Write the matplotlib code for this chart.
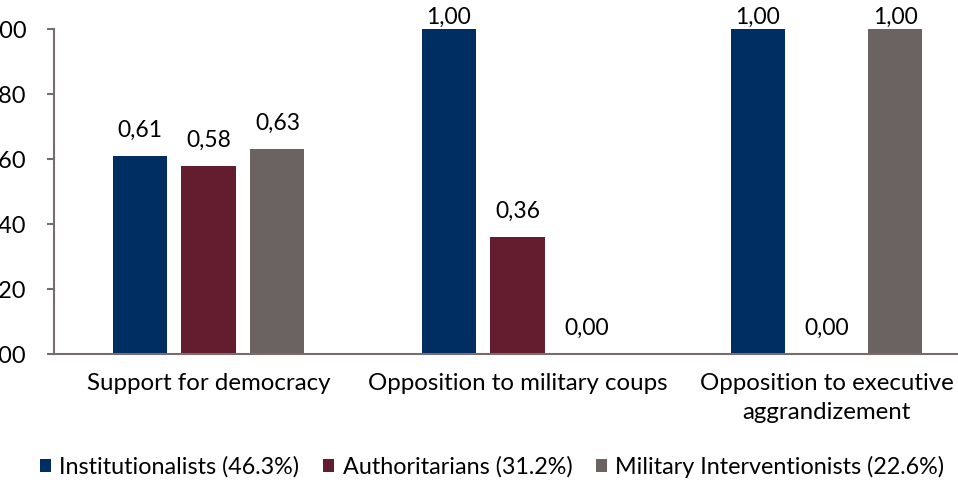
import matplotlib.pyplot as plt
import numpy as np

categories = ["Support for democracy", "Opposition to military coups",
              "Opposition to executive\naggrandizement"]
series = ["Institutionalists (46.3%)", "Authoritarians (31.2%)",
          "Military Interventionists (22.6%)"]
values = [
    [0.61, 1.00, 1.00],
    [0.58, 0.36, 0.00],
    [0.63, 0.00, 1.00],
]
yticks = [0.0, 0.2, 0.4, 0.6, 0.8, 1.0]
colors = ["#002d62", "#641c2f", "#6b6361"]

plt.rcParams['font.family'] = ['Lato', 'DejaVu Sans']

W, H = 958, 483
fig = plt.figure(figsize=(W / 100, H / 100), dpi=100)
# axes deliberately overflow the canvas on both sides (cropped screenshot)
ax = fig.add_axes([54 / W, (H - 354) / H, 927 / W, 325 / H])

x = np.arange(len(categories))
width = 0.175
step = 0.223
for i, (name, vals) in enumerate(zip(series, values)):
    pos = x + (i - 1) * step
    ax.bar(pos, vals, width, color=colors[i], label=name)
    for p, v in zip(pos, vals):
        off = 1 if v >= 0.99 else 15
        ax.annotate(f"{v:.2f}".replace(".", ","), (p, v), xytext=(0, off),
                    textcoords="offset pixels", ha="center", va="bottom",
                    fontsize=16.5, color="black", annotation_clip=False)

ax.set_xlim(-0.5, 2.5)
ax.set_ylim(0, 1)
ax.set_xticks(x)
ax.set_xticklabels(categories, fontsize=17.3, linespacing=1.45)
ax.set_yticks(yticks)
ax.set_yticklabels([f"{t:.2f}".replace(".", ",") for t in yticks], fontsize=17)
ax.tick_params(axis="x", length=0, pad=14)
ax.tick_params(axis="y", length=5, width=1.5, color="#756e6c", pad=15)
for s in ["top", "right"]:
    ax.spines[s].set_visible(False)
for s in ["left", "bottom"]:
    ax.spines[s].set_color("#756e6c")
    ax.spines[s].set_linewidth(1.5)

fig.legend(loc="center", bbox_to_anchor=(492 / W, 1 - 467 / H), ncol=3,
           frameon=False, fontsize=16.8, handlelength=0.5, handleheight=0.5,
           handletextpad=0.35, columnspacing=1.0, borderaxespad=0)

fig.savefig("out.png", dpi=100)
